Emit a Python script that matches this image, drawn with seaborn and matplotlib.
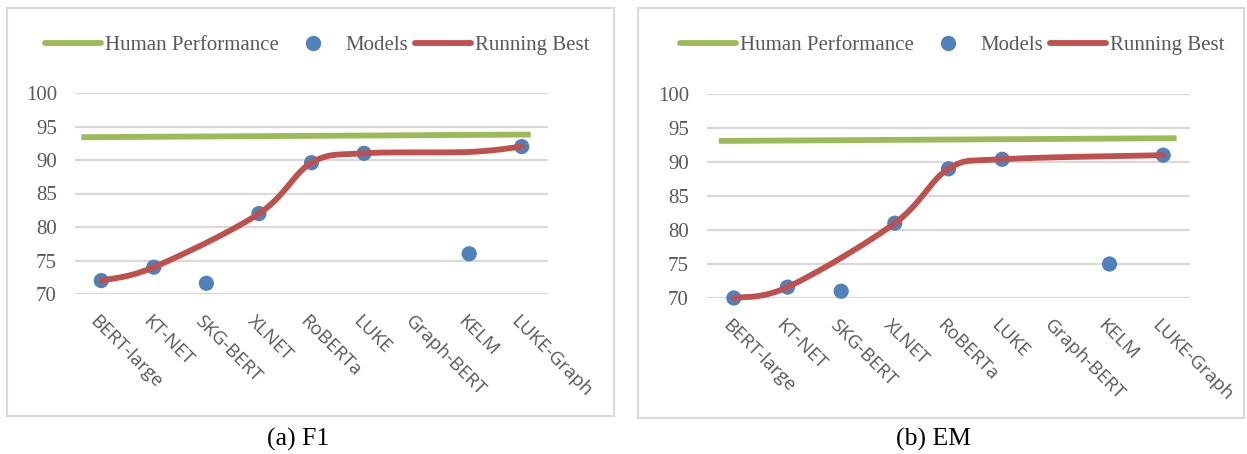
import numpy as np
import matplotlib
matplotlib.use("Agg")
import matplotlib.pyplot as plt
import seaborn as sns
from matplotlib.lines import Line2D
from matplotlib.patches import Rectangle
from matplotlib.transforms import ScaledTranslation

sns.set_theme(style="white")
plt.rcParams['font.family'] = ['Liberation Serif', 'DejaVu Serif']

# categories on the x axis
models = ["BERT-large", "KT-NET", "SKG-BERT", "XLNET", "RoBERTa",
          "LUKE", "Graph-BERT", "KELM", "LUKE-Graph"]

# F1 panel
f1_models = [72.0, 74.0, 71.6, 82.0, 89.6, 91.0, np.nan, 76.0, 92.0]
f1_best = [72.0, 74.0, np.nan, 82.0, 89.6, 91.0, np.nan, 91.2, 92.0]
f1_human = [93.4, 93.8]
f1_human_x = [-0.38, 8.17]

# EM panel
em_models = [70.0, 71.6, 71.0, 81.0, 89.0, 90.4, np.nan, 75.0, 91.0]
em_best = [70.0, 71.6, np.nan, 81.0, 89.0, 90.4, np.nan, np.nan, 91.0]
em_human = [93.1, 93.5]
em_human_x = [-0.28, 8.25]

yticks = [70, 75, 80, 85, 90, 95, 100]

GREEN = "#9BBB59"
BLUE = "#4F81BD"
RED = "#C0504D"
GRID = "#D9D9D9"
TEXT = "#595959"


def smooth(xs, ys, sx=7.85, n=40):
    # Excel-style smoothed line (bezier through the points, gaps skipped)
    xs = np.asarray(xs, float)
    ys = np.asarray(ys, float)
    keep = ~np.isnan(ys)
    pts = np.column_stack([xs[keep] * sx, ys[keep]])
    out = []
    for i in range(len(pts) - 1):
        p0 = pts[max(i - 1, 0)]
        p1 = pts[i]
        p2 = pts[i + 1]
        p3 = pts[min(i + 2, len(pts) - 1)]
        c1 = p1 + (p2 - p0) / 6
        c2 = p2 - (p3 - p1) / 6
        t = np.linspace(0, 1, n)[:, None]
        seg = (1 - t) ** 3 * p1 + 3 * (1 - t) ** 2 * t * c1 + 3 * (1 - t) * t ** 2 * c2 + t ** 3 * p2
        out.append(seg if i == 0 else seg[1:])
    out = np.vstack(out)
    return out[:, 0] / sx, out[:, 1]


fig = plt.figure(figsize=(12.47, 4.54), dpi=100)

panels = [
    ([75 / 1247, 1 - 294 / 454, 473 / 1247, 201 / 454], f1_models, f1_best, f1_human, f1_human_x,
     (7, 8, 607, 408), 317 / 1247, 298 / 1247, "(a) F1"),
    ([707 / 1247, 1 - 298 / 454, 483 / 1247, 204 / 454], em_models, em_best, em_human, em_human_x,
     (638, 8, 606, 410), 952 / 1247, 933 / 1247, "(b) EM"),
]

for rect, vals, best, human, human_x, box, leg_x, cap_x, caption in panels:
    # light panel border
    x0, y0, w, h = box
    fig.patches.append(Rectangle((x0 / 1247, 1 - (y0 + h) / 454), w / 1247, h / 454,
                                 transform=fig.transFigure, fill=False,
                                 edgecolor=GRID, linewidth=1.5))
    ax = fig.add_axes(rect)
    xs = np.arange(len(models))

    sns.lineplot(x=human_x, y=human, color=GREEN, linewidth=4.2, ax=ax,
                 solid_capstyle="butt", zorder=2)
    sns.scatterplot(x=xs, y=vals, color=BLUE, s=120, edgecolor="none", ax=ax,
                    zorder=3, clip_on=False)
    cx, cy = smooth(xs, best)
    sns.lineplot(x=cx, y=cy, sort=False, estimator=None, color=RED, linewidth=4.2,
                 ax=ax, zorder=4, solid_capstyle="round", clip_on=False)

    ax.set_xlim(-0.5, len(models) - 0.5)
    ax.set_ylim(70, 100)
    ax.set_yticks(yticks)
    ax.yaxis.grid(True, color=GRID, linewidth=1.6)
    ax.set_axisbelow(True)
    for s in ax.spines.values():
        s.set_visible(False)
    ax.tick_params(axis="y", length=0, pad=13, labelsize=15, labelcolor=TEXT)
    ax.tick_params(axis="x", length=0, pad=13)
    ax.set_xticks(xs)
    ax.set_xticklabels(models, rotation=-45, ha="left", va="top",
                       rotation_mode="anchor", family="Open Sans",
                       fontsize=13.5, color=TEXT)
    shift = ScaledTranslation(-2 / 100, 0, fig.dpi_scale_trans)
    for lab in ax.get_xticklabels():
        lab.set_transform(lab.get_transform() + shift)
    ax.set_xlabel("")
    ax.set_ylabel("")

    handles = [
        Line2D([], [], color=GREEN, linewidth=4.2, solid_capstyle="round"),
        Line2D([], [], color=BLUE, marker="o", linestyle="none", markersize=10),
        Line2D([], [], color=RED, linewidth=4.2, solid_capstyle="round"),
    ]
    fig.legend(handles, ["Human Performance", "Models", "Running Best"],
               loc="center", bbox_to_anchor=(leg_x, 1 - 45 / 454), ncol=3,
               frameon=False, fontsize=15, handlelength=2.7, handletextpad=0.2,
               columnspacing=0.3, labelcolor=TEXT)

    fig.text(cap_x, 1 - 439 / 454, caption, ha="center", va="center",
             fontsize=18.5, color="black")

fig.savefig("out.png", dpi=100)
